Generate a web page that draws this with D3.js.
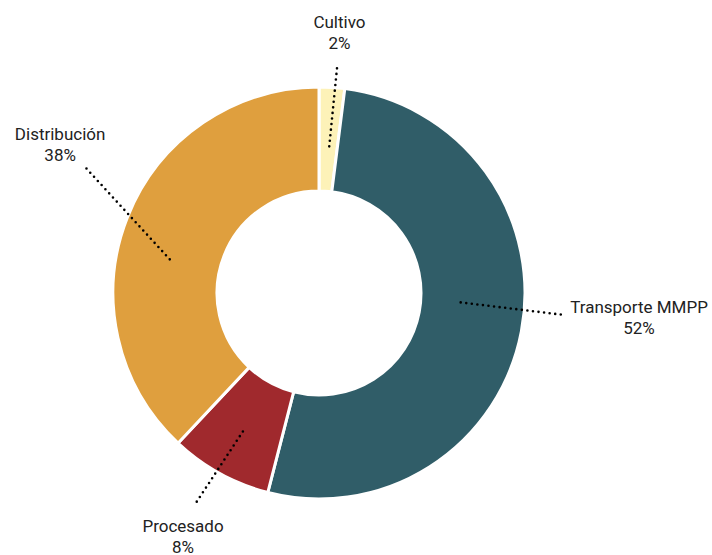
<!DOCTYPE html>
<html>
<head>
<meta charset="utf-8">
<script src="https://cdn.jsdelivr.net/npm/d3@7/dist/d3.min.js"></script>
<style>
  html, body { margin: 0; padding: 0; background: #fff; }
  svg { display: block; }
  text { font-family: Roboto, "Noto Sans", sans-serif; font-size: 17px; fill: #222; }
</style>
</head>
<body>
<svg id="chart" width="712" height="555"></svg>
<script>
// Emissions share by stage
const categories = ["Cultivo", "Transporte MMPP", "Procesado", "Distribución"];
const values = [2, 52, 8, 38];
const colors = ["#FDF2B8", "#305D68", "#A0292D", "#DF9F3E"];

// Callout geometry: leader line from (startAngle, startR) to (endAngle, endR),
// text offset (tx, ty) from the line end
const callouts = [
  { sa: 4.0,   sr: 147, ea: 4.6,   er: 230, tx: 2,   ty: -36 },
  { sa: 93.8,  sr: 142, ea: 95.1,  er: 243, tx: 78,  ty: -1.5 },
  { sa: 208.8, sr: 158, ea: 210.4, er: 245, tx: -12, ty: 28 },
  { sa: 282.7, sr: 153, ea: 298.4, er: 267, tx: -24, ty: -26 }
];

const width = 712, height = 555;
const cx = 319, cy = 293;
const outerR = 206, innerR = 102;
const lineGap = 21;

const svg = d3.select("#chart");
const g = svg.append("g").attr("transform", `translate(${cx},${cy})`);

const data = categories.map((c, i) => ({ name: c, value: values[i], color: colors[i], co: callouts[i] }));

const pie = d3.pie().value(d => d.value).sort(null);
const arc = d3.arc().innerRadius(innerR).outerRadius(outerR);
const arcs = pie(data);

g.selectAll("path.slice")
  .data(arcs)
  .join("path")
  .attr("class", "slice")
  .attr("d", arc)
  .attr("fill", d => d.data.color)
  .attr("stroke", "#fff")
  .attr("stroke-width", 3)
  .attr("stroke-linejoin", "miter");

const polar = (deg, r) => {
  const a = deg * Math.PI / 180;
  return [r * Math.sin(a), -r * Math.cos(a)];
};

// leader lines
g.selectAll("line.leader")
  .data(data)
  .join("line")
  .attr("class", "leader")
  .each(function(d) {
    const [x1, y1] = polar(d.co.sa, d.co.sr);
    const [x2, y2] = polar(d.co.ea, d.co.er);
    d3.select(this).attr("x1", x1).attr("y1", y1).attr("x2", x2).attr("y2", y2);
  })
  .attr("stroke", "#000")
  .attr("stroke-width", 2.6)
  .attr("stroke-linecap", "round")
  .attr("stroke-dasharray", "0 5.6");

// labels
const labels = g.selectAll("text.label")
  .data(data)
  .join("text")
  .attr("class", "label")
  .attr("text-anchor", "middle")
  .attr("transform", d => {
    const [x, y] = polar(d.co.ea, d.co.er);
    return `translate(${x + d.co.tx},${y + d.co.ty})`;
  });

labels.append("tspan").attr("x", 0).attr("y", 0).text(d => d.name);
labels.append("tspan").attr("x", 0).attr("y", lineGap).text(d => d.value + "%");
</script>
</body>
</html>
